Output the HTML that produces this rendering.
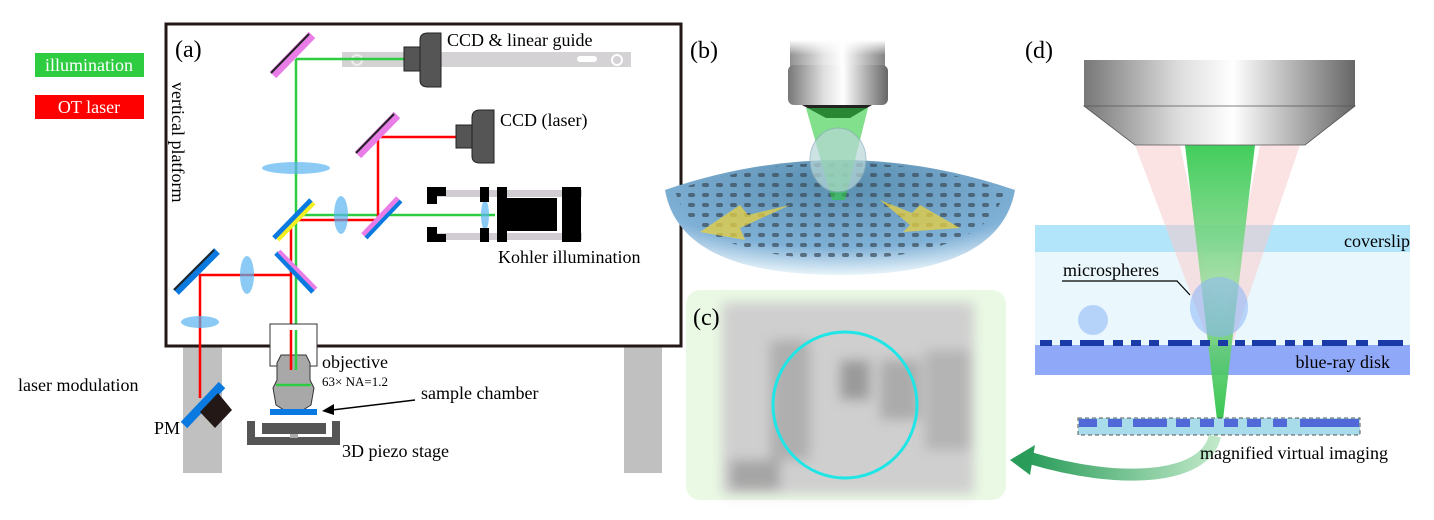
<!DOCTYPE html>
<html><head><meta charset="utf-8"><style>
html,body{margin:0;padding:0;background:#fff;}
svg{display:block;}
svg text{font-family:"Liberation Serif",serif;}
</style></head><body>
<svg width="1434" height="520" viewBox="0 0 1434 520" xmlns="http://www.w3.org/2000/svg" font-family="Liberation Serif, serif">
<defs>
<linearGradient id="metal" x1="0" x2="1"><stop offset="0" stop-color="#777"/><stop offset="0.35" stop-color="#ddd"/><stop offset="0.55" stop-color="#fff"/><stop offset="1" stop-color="#666"/></linearGradient>
<linearGradient id="metalfade" x1="0" y1="0" x2="0" y2="1"><stop offset="0" stop-color="#fff" stop-opacity="1"/><stop offset="1" stop-color="#fff" stop-opacity="0"/></linearGradient>
<linearGradient id="gcone" x1="0" y1="0" x2="0" y2="1"><stop offset="0" stop-color="#2ec84a"/><stop offset="0.5" stop-color="#9edca0"/><stop offset="1" stop-color="#22c040"/></linearGradient>
<linearGradient id="laserfade" x1="0" x2="1"><stop offset="0" stop-color="#f00" stop-opacity="0"/><stop offset="0.3" stop-color="#f00"/></linearGradient>
<linearGradient id="arrowg" x1="0" x2="1"><stop offset="0" stop-color="#2a9c5a"/><stop offset="1" stop-color="#bfe8c8"/></linearGradient>
<radialGradient id="disk" cx="0.5" cy="0.2" r="0.8"><stop offset="0" stop-color="#5a8fb0"/><stop offset="0.7" stop-color="#7fb0d6"/><stop offset="1" stop-color="#e8f4fa"/></radialGradient>
<filter id="blur"><feGaussianBlur stdDeviation="6"/></filter>
<pattern id="dots" width="14" height="10" patternUnits="userSpaceOnUse"><rect x="2" y="3" width="7" height="4" rx="2" fill="#3a4a58"/></pattern>
</defs>

<!-- Panel (a) -->
<rect x="35" y="53" width="109" height="24" fill="#2ecc40"/>
<text x="89" y="71" font-size="18" fill="#fff" text-anchor="middle">illumination</text>
<rect x="35" y="95" width="109" height="24" fill="#f00"/>
<text x="89" y="113" font-size="18" fill="#fff" text-anchor="middle">OT laser</text>

<rect x="183" y="345" width="39" height="128" fill="#c0c0c0"/>
<rect x="624" y="345" width="38" height="128" fill="#c0c0c0"/>
<rect x="166" y="24" width="515" height="322" fill="#fff" stroke="#231815" stroke-width="3"/>
<text x="175" y="57" font-size="24">(a)</text>
<text transform="translate(172,82) rotate(90)" font-size="18">vertical platform</text>

<rect x="342" y="52" width="289" height="15" fill="#d5d2d6"/>
<rect x="577" y="56" width="20" height="6" rx="3" fill="#fff"/>
<circle cx="617" cy="60" r="5" fill="none" stroke="#fff" stroke-width="2"/>
<circle cx="357" cy="60" r="5" fill="none" stroke="#eee" stroke-width="2"/>
<g fill="none" stroke-width="2.5">
<polyline points="296,59 404,59" stroke="#2ecc40"/>
<line x1="296" y1="59" x2="296" y2="365" stroke="#2ecc40"/>
<line x1="296" y1="215" x2="495" y2="215" stroke="#2ecc40"/>
<polyline points="291,365 291,220 378,220 378,137 456,137" stroke="#f00"/>
<polyline points="291,275 200,275 200,398" stroke="#f00"/>
</g>
<line x1="70" y1="398" x2="200" y2="398" stroke="url(#laserfade)" stroke-width="2.5"/>
<rect x="404" y="47" width="16" height="24" fill="#555" stroke="#222"/>
<path d="M420 40 Q420 33 428 33 L441 33 L441 87 L428 87 Q420 87 420 80 Z" fill="#555" stroke="#222"/>
<text x="447" y="46" font-size="18">CCD &amp;  linear guide</text>
<rect x="456" y="125" width="16" height="23" fill="#555" stroke="#222"/>
<path d="M472 118 Q472 110 480 110 L494 110 L494 163 L480 163 Q472 163 472 156 Z" fill="#555" stroke="#222"/>
<text x="500" y="126" font-size="18">CCD (laser)</text>
<g stroke-linecap="butt">
<line x1="273" y1="75" x2="312" y2="35" stroke="#e87de8" stroke-width="9"/>
<line x1="271" y1="73" x2="309" y2="34" stroke="#222" stroke-width="2"/>
<line x1="358" y1="155" x2="397" y2="115" stroke="#e87de8" stroke-width="9"/>
<line x1="356" y1="153" x2="394" y2="114" stroke="#222" stroke-width="2"/>
<line x1="274" y1="238" x2="311" y2="200" stroke="#0a7ae0" stroke-width="5"/>
<line x1="278" y1="240" x2="314" y2="203" stroke="#f3ef20" stroke-width="4"/>
<line x1="363" y1="235" x2="398" y2="198" stroke="#e87de8" stroke-width="5"/>
<line x1="366" y1="238" x2="401" y2="201" stroke="#0a7ae0" stroke-width="4"/>
<line x1="276" y1="253" x2="313" y2="292" stroke="#0a7ae0" stroke-width="5"/>
<line x1="279" y1="251" x2="316" y2="289" stroke="#e87de8" stroke-width="4"/>
<line x1="176" y1="292" x2="217" y2="251" stroke="#0a7ae0" stroke-width="8"/>
<line x1="174" y1="290" x2="214" y2="250" stroke="#222" stroke-width="2"/>
<line x1="184" y1="425" x2="222" y2="385" stroke="#0a7ae0" stroke-width="9"/>
<polygon points="200,412 218,393 232,410 215,428" fill="#231815"/>
</g>
<g fill="#5ab4f0" opacity="0.7">
<ellipse cx="296" cy="168" rx="34" ry="6"/>
<ellipse cx="341" cy="215" rx="7" ry="19"/>
<ellipse cx="247" cy="275" rx="7" ry="19"/>
<ellipse cx="200" cy="322" rx="19" ry="6"/>
<ellipse cx="485" cy="215" rx="4" ry="15"/>
</g>
<rect x="432" y="190" width="150" height="7" fill="#d0ccd2"/>
<rect x="432" y="233" width="150" height="7" fill="#d0ccd2"/>
<path d="M427 187 L446 187 L446 196 L437 196 L437 204 L427 204 Z" fill="#000"/>
<path d="M427 227 L437 227 L437 234 L446 234 L446 242 L427 242 Z" fill="#000"/>
<rect x="480" y="187" width="9" height="15" fill="#000"/>
<rect x="480" y="228" width="9" height="14" fill="#000"/>
<rect x="497" y="187" width="10" height="55" fill="#000"/>
<rect x="507" y="198" width="50" height="33" fill="#000"/>
<rect x="562" y="187" width="19" height="55" fill="#000"/>
<text x="498" y="263" font-size="18">Kohler illumination</text>
<rect x="270" y="324" width="47" height="42" fill="#fff" stroke="#333"/>
<path d="M281 355 L306 355 L310 363 L310 380 L314 388 L311 405 L303 410 L284 410 L276 405 L273 388 L277 380 L277 363 Z" fill="#a8a8a8" stroke="#333"/>
<line x1="276" y1="385" x2="311" y2="385" stroke="#2ecc40" stroke-width="2.5"/>
<line x1="291" y1="330" x2="291" y2="370" stroke="#f00" stroke-width="2.5"/>
<line x1="296" y1="330" x2="296" y2="370" stroke="#2ecc40" stroke-width="2.5"/>
<text x="322" y="368" font-size="18">objective</text>
<text x="322" y="386" font-size="13">63× NA=1.2</text>
<rect x="270" y="409" width="47" height="6" fill="#0a7ae0"/>
<line x1="415" y1="400" x2="332" y2="410" stroke="#000" stroke-width="1.5"/>
<polygon points="322,411 334,404 334,415" fill="#000"/>
<text x="421" y="399" font-size="18">sample chamber</text>
<path d="M247 421 L255 421 L255 437 L332 437 L332 421 L340 421 L340 445 L247 445 Z" fill="#555"/>
<rect x="262" y="423" width="64" height="11" fill="#555"/>
<rect x="290" y="434" width="8" height="4" fill="#aaa"/>
<text x="342" y="457" font-size="18">3D piezo stage</text>
<text x="18" y="391" font-size="18">laser modulation</text>
<text x="154" y="434" font-size="18">PM</text>

<!-- Panel (b) -->
<text x="690" y="58" font-size="24">(b)</text>
<path d="M665 190 Q840 130 1015 190 Q1000 275 840 275 Q680 275 665 190 Z" fill="url(#disk)"/>
<path d="M675 190 Q840 135 1005 190 Q990 255 840 260 Q690 255 675 190 Z" fill="url(#dots)" opacity="0.7"/>
<rect x="790" y="40" width="95" height="30" fill="url(#metal)" opacity="0.8"/>
<rect x="790" y="40" width="95" height="15" fill="url(#metalfade)"/>
<rect x="788" y="65" width="100" height="40" rx="6" fill="url(#metal)"/>
<polygon points="802,105 872,105 850,118 826,118" fill="#222"/>
<polygon points="806,108 868,108 845,200 832,200" fill="#2ecc40" opacity="0.6"/>
<ellipse cx="838" cy="160" rx="28" ry="32" fill="#b8d8d8" opacity="0.7" stroke="#8ab"/>
<polygon points="700,232 740,205 748,215 790,205 740,228 745,240" fill="#e8d040" opacity="0.75"/>
<polygon points="960,228 920,205 912,213 880,200 910,225 903,232" fill="#e8d040" opacity="0.75"/>

<!-- Panel (c) -->
<rect x="686" y="290" width="320" height="210" rx="14" fill="#eaf9e4"/>
<g filter="url(#blur)">
<rect x="722" y="302" width="252" height="192" fill="#cfcfcf"/>
<rect x="770" y="340" width="40" height="120" fill="#999" opacity="0.6"/>
<rect x="840" y="360" width="30" height="40" fill="#777" opacity="0.6"/>
<rect x="880" y="360" width="40" height="60" fill="#888" opacity="0.5"/>
<rect x="925" y="350" width="45" height="100" fill="#999" opacity="0.5"/>
<rect x="730" y="460" width="50" height="30" fill="#888" opacity="0.6"/>
</g>
<text x="693" y="325" font-size="24">(c)</text>
<ellipse cx="845" cy="405" rx="72" ry="73" fill="none" stroke="#1ee6e6" stroke-width="3"/>

<!-- Panel (d) -->
<text x="1025" y="58" font-size="24">(d)</text>
<rect x="1035" y="225" width="375" height="150" fill="#eaf8fd"/>
<rect x="1035" y="225" width="375" height="27" fill="#b3e5fa"/>
<rect x="1035" y="345" width="375" height="30" fill="#90a8f8"/>
<polygon points="1135,145 1180,145 1222,345 1210,345" fill="#f9c8c8" opacity="0.5"/>
<polygon points="1260,145 1300,145 1232,345 1220,345" fill="#f9c8c8" opacity="0.5"/>
<polygon points="1185,145 1255,145 1223,420 1217,420" fill="url(#gcone)" opacity="0.9"/>
<text x="1410" y="247" font-size="18" text-anchor="end">coverslip</text>
<text x="1390" y="368" font-size="18" text-anchor="end">blue-ray disk</text>
<g fill="#1a3aa8">
<rect x="1040" y="340" width="12" height="6"/><rect x="1060" y="340" width="12" height="6"/><rect x="1080" y="340" width="24" height="6"/>
<rect x="1113" y="340" width="10" height="6"/><rect x="1131" y="340" width="10" height="6"/><rect x="1149" y="340" width="10" height="6"/>
<rect x="1168" y="340" width="24" height="6"/><rect x="1200" y="340" width="10" height="6"/><rect x="1218" y="340" width="10" height="6"/>
<rect x="1235" y="340" width="10" height="6"/><rect x="1252" y="340" width="24" height="6"/><rect x="1285" y="340" width="10" height="6"/>
<rect x="1303" y="340" width="10" height="6"/><rect x="1322" y="340" width="25" height="6"/><rect x="1356" y="340" width="12" height="6"/>
<rect x="1378" y="340" width="25" height="6"/>
</g>
<ellipse cx="1219" cy="307" rx="29" ry="30" fill="#8ab4f8" opacity="0.55"/>
<circle cx="1093" cy="320" r="15" fill="#a8c8f8" opacity="0.8"/>
<text x="1063" y="276" font-size="18">microspheres</text>
<polyline points="1062,281 1177,281 1190,295" fill="none" stroke="#000" stroke-width="1.2"/>
<rect x="1084" y="60" width="271" height="46" fill="url(#metal)"/>
<polygon points="1084,106 1355,106 1305,145 1135,145" fill="url(#metal)" stroke="#555" stroke-width="0.8"/>
<rect x="1078" y="418" width="282" height="17" fill="#a8dcea" stroke="#555" stroke-dasharray="4,3"/>
<g fill="#5068d8">
<rect x="1079" y="419" width="18" height="8"/><rect x="1108" y="419" width="14" height="8"/><rect x="1133" y="419" width="34" height="8"/>
<rect x="1176" y="419" width="14" height="8"/><rect x="1200" y="419" width="14" height="8"/><rect x="1224" y="419" width="14" height="8"/>
<rect x="1247" y="419" width="14" height="8"/><rect x="1273" y="419" width="14" height="8"/><rect x="1300" y="419" width="59" height="8"/>
</g>
<path d="M1215 436 C1205 480 1120 485 1030 458" fill="none" stroke="url(#arrowg)" stroke-width="12"/>
<polygon points="1010,460 1035,445 1030,475" fill="#2a9c5a"/>
<text x="1200" y="459" font-size="18">magnified virtual imaging</text>
</svg>
</body></html>
